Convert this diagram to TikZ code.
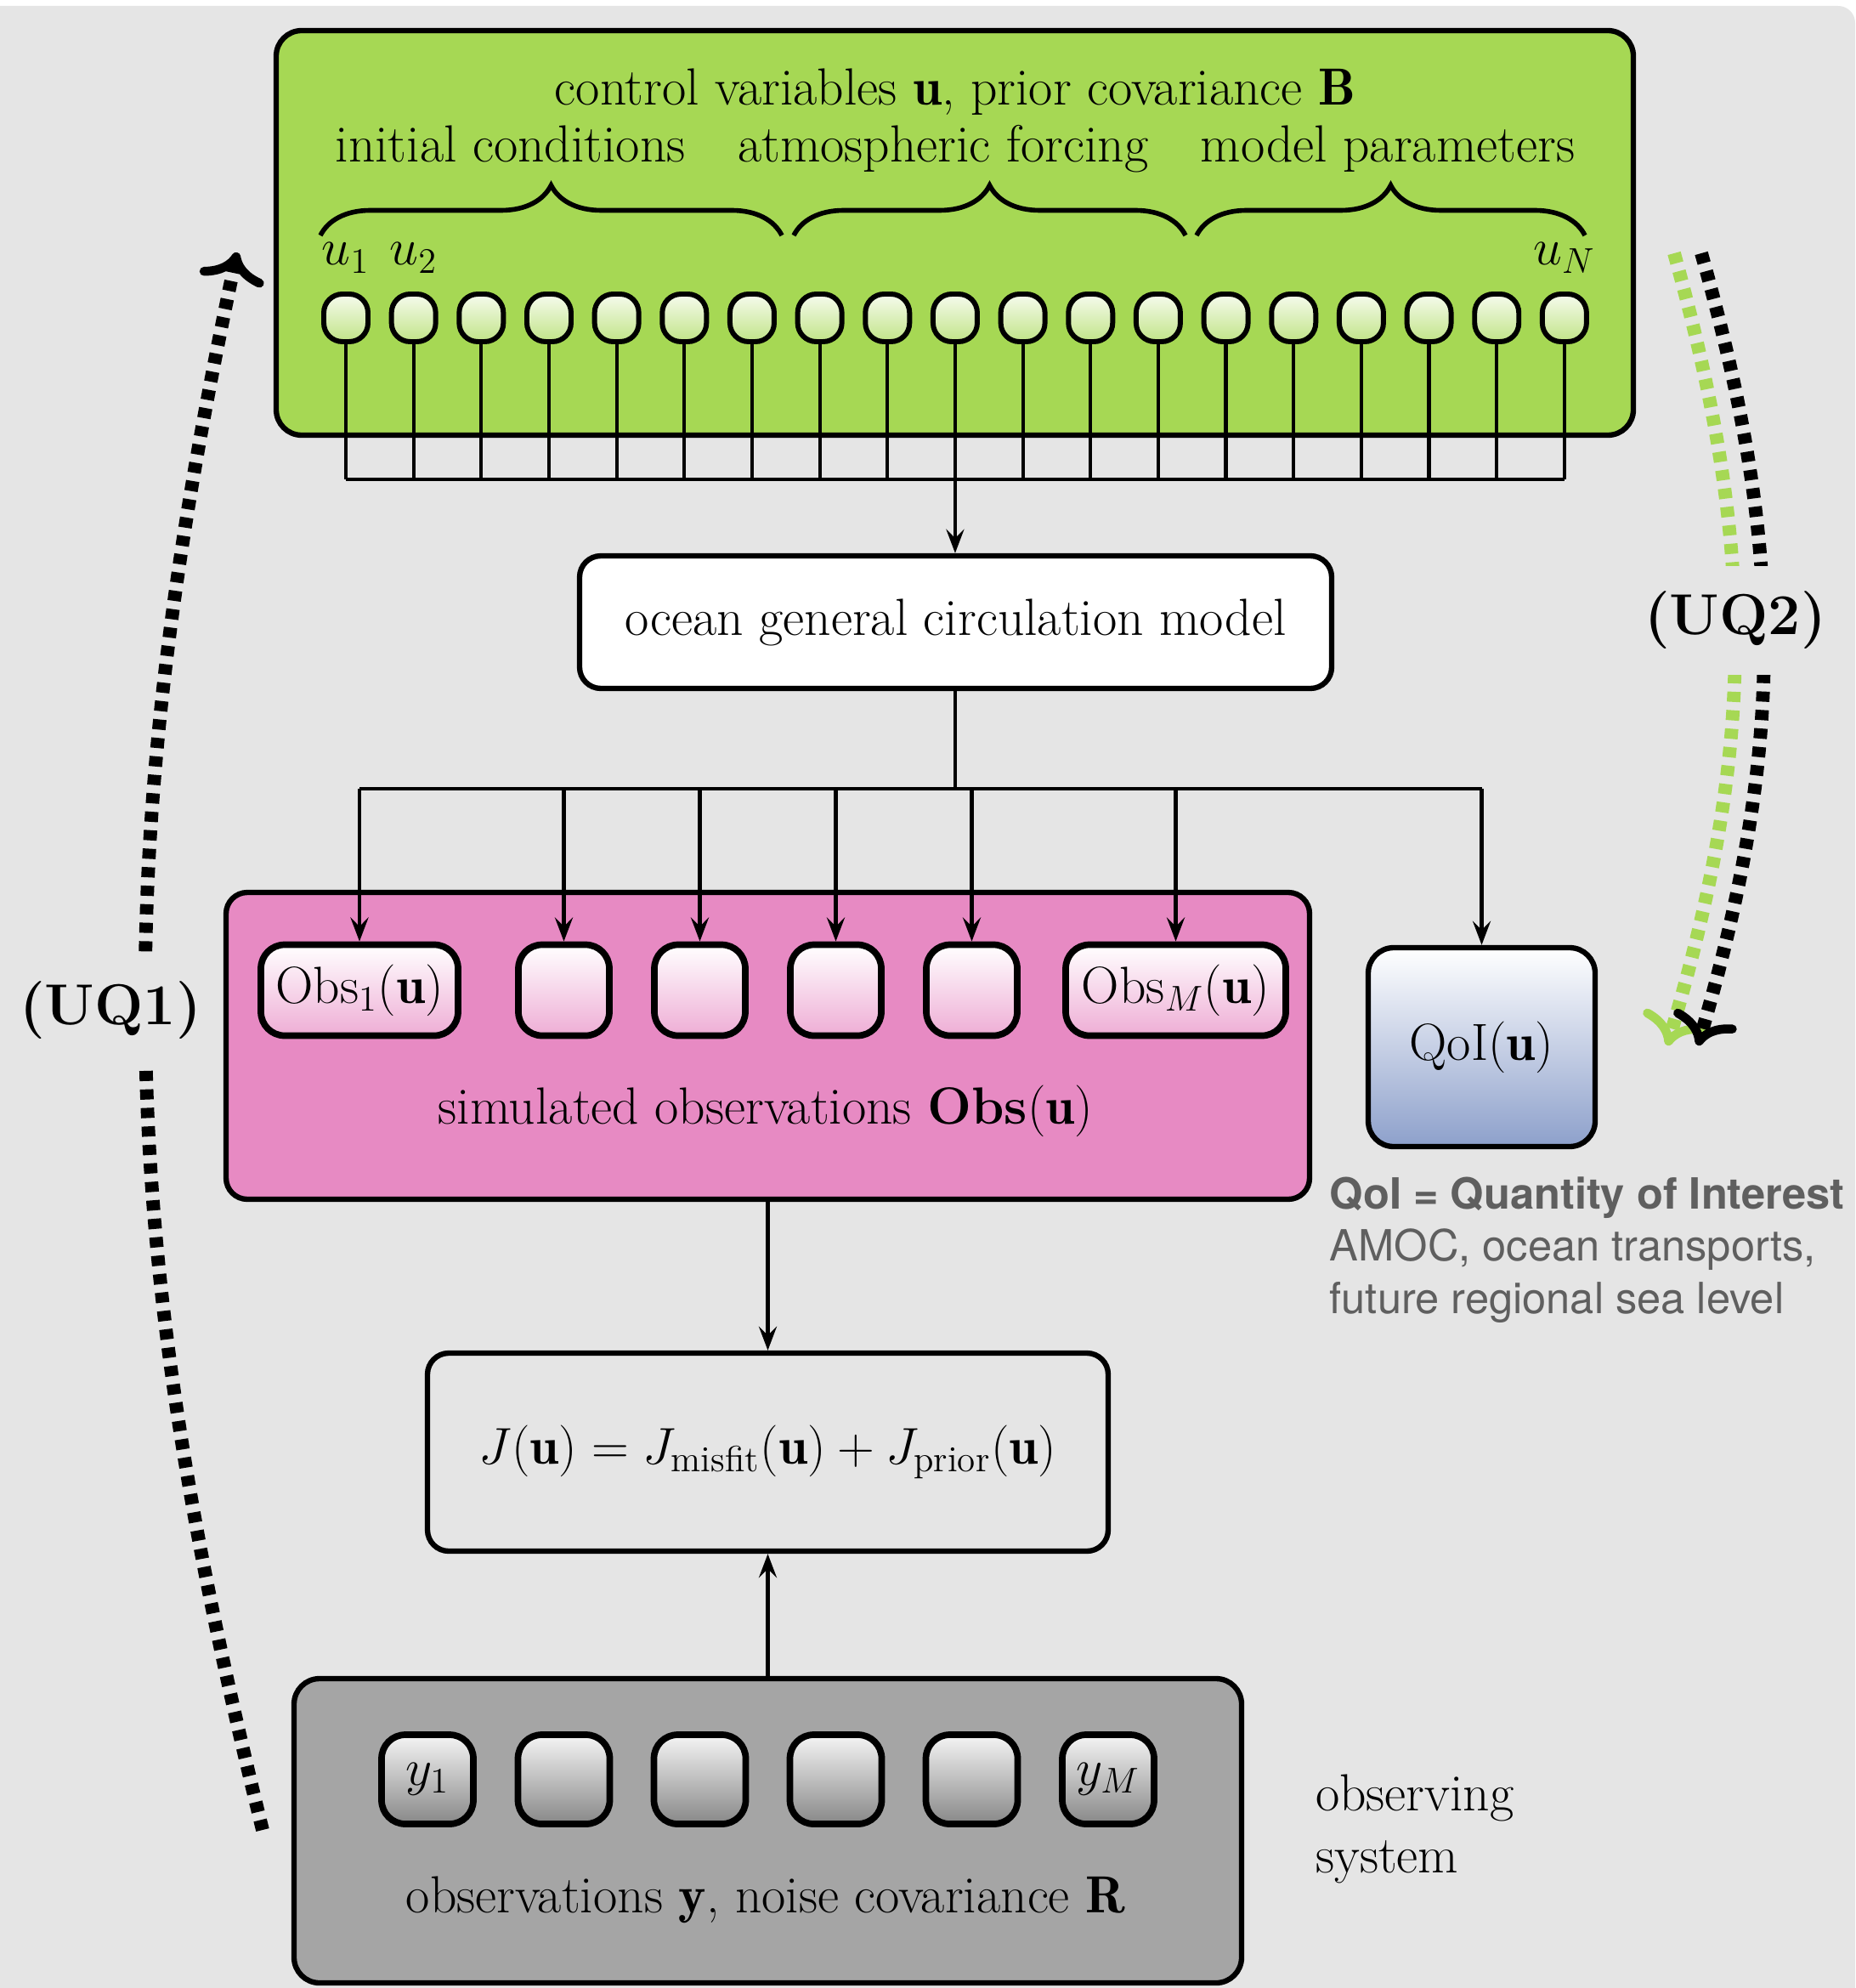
\documentclass[tikz,border=0pt]{standalone}
\usepackage{amsmath}
\usepackage{amssymb}
\usepackage{xcolor}
\usepackage{fontspec}
\usepackage{tikz}
\usetikzlibrary{positioning,calc,arrows.meta,decorations.pathreplacing}
\newfontfamily\notefont{TeX Gyre Heros}
\newcommand{\mainsize}{\fontsize{17.5}{20.5}\selectfont}
\newcommand{\uqsize}{\fontsize{19.3}{23}\selectfont}
\newcommand{\notesize}{\fontsize{14.4}{17.4}\selectfont}
\definecolor{BgGray}{RGB}{229,229,229}
\definecolor{CtrlGreen}{RGB}{166,216,84}
\definecolor{ObsPink}{RGB}{231,138,195}
\definecolor{QoIBlue}{RGB}{141,160,203}
\definecolor{SysGray}{RGB}{165,165,165}
\definecolor{NoteGray}{RGB}{95,95,95}

\begin{document}
\begin{tikzpicture}[
        font=\mainsize,
        % Style cho các hộp
        bigbox/.style={rectangle, draw=black, line width=1.8pt, rounded corners=0.25cm, inner sep=0pt},
        ctrlvar/.style={rectangle, draw=black, line width=1.7pt, rounded corners=0.22cm, top color=CtrlGreen!10, bottom color=CtrlGreen!70, minimum width=0.52cm, minimum height=0.56cm, inner sep=0pt},
        obsvar/.style={rectangle, draw=black, line width=2.2pt, rounded corners=0.28cm, top color=white, bottom color=ObsPink!70, minimum width=1.07cm, minimum height=1.07cm, inner sep=0pt},
        datavar/.style={rectangle, draw=black, line width=2.2pt, rounded corners=0.28cm, top color=black!4, bottom color=black!47, minimum width=1.08cm, minimum height=1.05cm, inner sep=0pt},
        % Style cạnh
        wire/.style={draw=black, line width=1.2pt},
        flow/.style={wire, -{Stealth[length=8pt, width=6pt, inset=3pt]}},
        uqpath/.style={line width=4.5pt, dash pattern=on 3.4pt off 2.8pt, -{To[length=10pt, width=22pt, line width=3pt 0 1, round]}},
        ctrlbrace/.style={decorate, decoration={brace, amplitude=0.59cm}, line width=1.6pt},
        % Style nhãn
        uqlabel/.style={fill=BgGray, font=\uqsize\bfseries, inner xsep=0.1cm, inner ysep=0.3cm},
        notelabel/.style={anchor=base west, align=left, inner sep=0pt}
    ]
    % --- NỀN ---
    \useasboundingbox (0,0) rectangle (21.83,-23.39);
    \fill[BgGray, rounded corners=0.2cm] (-0.5,-24) rectangle (21.83,-0.07);

    % --- BIẾN ĐIỀU KHIỂN ---
    \node[bigbox, fill=CtrlGreen, rounded corners=0.3cm, minimum width=15.97cm, minimum height=4.76cm] (ctrl) at (11.235,-2.74) {};
    \node[anchor=base] (ctrltitle) at (11.24,-1.24) {control variables $\mathbf{u}$, prior covariance $\mathbf{B}$};
    \node[anchor=base] (ctrlgroups) at (11.24,-1.91) {initial conditions\quad atmospheric forcing\quad model parameters};

    \draw[ctrlbrace] (3.77,-2.77) -- (9.20,-2.77);
    \draw[ctrlbrace] (9.34,-2.77) -- (13.95,-2.77);
    \draw[ctrlbrace] (14.08,-2.77) -- (18.65,-2.77);

    % các ô u_i và dây nối
    \foreach \i in {0,...,18} {
        \node[ctrlvar] (u\i) at ({4.07+0.7966*\i},-3.74) {};
        \coordinate (b\i) at ({4.07+0.7966*\i},-5.64);
        \draw[wire] (u\i) -- (b\i);
    }
    \draw[wire] (b0) -- (b18);

    \node[anchor=base] at (u0 |- 0,-3.12) {$u_1$};
    \node[anchor=base] at (u1 |- 0,-3.12) {$u_2$};
    \node[anchor=base] at (u18 |- 0,-3.12) {$u_N$};

    % --- MÔ HÌNH ---
    \node[bigbox, fill=white, minimum width=8.85cm, minimum height=1.56cm] (ogcm) at (11.245,-7.32) {ocean general circulation model};
    \draw[flow] (b9) -- (b9 |- ogcm.north);

    % --- QUAN TRẮC MÔ PHỎNG ---
    \node[bigbox, fill=ObsPink, minimum width=12.75cm, minimum height=3.61cm] (sim) at (9.035,-12.305) {};
    \node[anchor=base] (simtext) at (9.01,-13.22) {simulated observations \textbf{Obs}$(\mathbf{u})$};

    \node[obsvar, minimum width=2.32cm] (obs1) at (4.23,-11.65) {$\mathrm{Obs}_1(\mathbf{u})$};
    \foreach \x [count=\k from 2] in {6.635,8.235,9.835,11.435}
        \node[obsvar] (obs\k) at (\x,-11.65) {};
    \node[obsvar, minimum width=2.59cm] (obs6) at (13.835,-11.65) {$\mathrm{Obs}_M(\mathbf{u})$};

    \node[bigbox, rounded corners=0.3cm, top color=white, bottom color=QoIBlue, minimum width=2.67cm, minimum height=2.34cm] (qoi) at (17.435,-12.32) {$\mathrm{QoI}(\mathbf{u})$};

    \coordinate (split) at (11.24,-9.28);
    \draw[wire] (ogcm.south -| split) -- (split);
    \draw[wire] (obs1 |- split) -- (qoi |- split);
    \foreach \k in {1,...,6}
        \draw[flow] (obs\k |- split) -- (obs\k);
    \draw[flow] (qoi |- split) -- (qoi);

    % mốc base của nút nhiều dòng là dòng cuối
    \node[notelabel, font=\notesize\notefont, text=NoteGray] (qoinote) at (15.64,-15.45)
        {\textbf{QoI = Quantity of Interest}\\AMOC, ocean transports,\\future regional sea level};

    % --- HÀM MỤC TIÊU ---
    \node[bigbox, minimum width=8.01cm, minimum height=2.33cm] (jbox) at (9.035,-17.085)
        {$J(\mathbf{u}) = J_{\text{misfit}}(\mathbf{u}) + J_{\text{prior}}(\mathbf{u})$};
    \draw[flow] (sim) -- (jbox);

    % --- HỆ QUAN TRẮC ---
    \node[bigbox, fill=SysGray, rounded corners=0.3cm, minimum width=11.15cm, minimum height=3.58cm] (obssys) at (9.035,-21.54) {};
    \node[datavar] (y1) at (5.03,-20.935) {$y_1$};
    \foreach \x [count=\k from 2] in {6.635,8.235,9.835,11.435}
        \node[datavar] (y\k) at (\x,-20.935) {};
    \node[datavar] (y6) at (13.04,-20.935) {$y_M$};
    \node[anchor=base] (obstext) at (9.01,-22.50) {observations $\mathbf{y}$, noise covariance $\mathbf{R}$};
    \draw[flow] (obssys) -- (jbox);

    \node[notelabel] (systext) at (15.475,-22.03) {observing\\system};

    % --- VÒNG UQ ---
    \coordinate (uq1from) at (3.09,-21.53);
    \coordinate (uq1to) at (2.79,-2.97);
    \draw[uqpath] (uq1from) to[bend left=13] (uq1to);
    \node[uqlabel] (uq1) at (1.30,-11.89) {(UQ1)};

    \coordinate (uq2gfrom) at (19.70,-2.98);
    \coordinate (uq2gto) at (19.62,-12.30);
    \coordinate (uq2kfrom) at (20.02,-2.98);
    \coordinate (uq2kto) at (19.98,-12.30);
    \draw[uqpath, CtrlGreen] (uq2gfrom) to[bend left=16] (uq2gto);
    \draw[uqpath, black] (uq2kfrom) to[bend left=16] (uq2kto);
    \node[uqlabel] (uq2) at (20.42,-7.30) {(UQ2)};

\end{tikzpicture}
\end{document}
